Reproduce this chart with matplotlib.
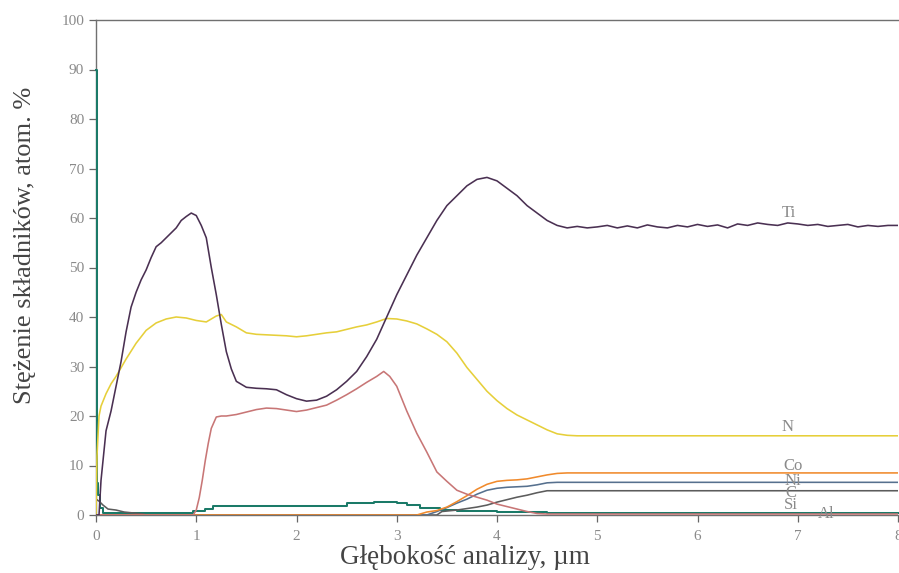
import matplotlib
matplotlib.use("Agg")
import matplotlib.pyplot as plt

# ---------------- data ----------------
ti_depth = [0, 0.03, 0.05, 0.08, 0.1, 0.15, 0.2, 0.25, 0.3, 0.35, 0.4, 0.45, 0.5, 0.55, 0.6,
            0.65, 0.7, 0.75, 0.8, 0.85, 0.9, 0.95, 1.0, 1.05, 1.1, 1.15, 1.2, 1.25, 1.3, 1.35,
            1.4, 1.5, 1.6, 1.7, 1.8, 1.9, 2.0, 2.1, 2.2, 2.3, 2.4, 2.5, 2.6, 2.7, 2.8, 2.9,
            3.0, 3.1, 3.2, 3.3, 3.4, 3.5, 3.6, 3.7, 3.8, 3.9, 4.0, 4.1, 4.2, 4.3, 4.4, 4.5,
            4.6, 4.7, 4.8, 4.9, 5.0, 5.1, 5.2, 5.3, 5.4, 5.5, 5.6, 5.7, 5.8, 5.9, 6.0, 6.1,
            6.2, 6.3, 6.4, 6.5, 6.6, 6.7, 6.8, 6.9, 7.0, 7.1, 7.2, 7.3, 7.4, 7.5, 7.6, 7.7,
            7.8, 7.9, 8.0]
ti_vals = [0, 0, 7, 13, 17, 21, 26, 31, 37, 42, 45, 47.5, 49.5, 52, 54.2,
           55, 56, 57, 58, 59.5, 60.3, 61, 60.5, 58.5, 56, 50, 44.5, 38.5, 33, 29.5,
           27.0, 25.8, 25.6, 25.5, 25.3, 24.3, 23.5, 23.0, 23.2, 24.0, 25.3, 27, 29, 32, 35.5, 40,
           44.5, 48.5, 52.5, 56, 59.5, 62.5, 64.5, 66.5, 67.8, 68.2, 67.5, 66, 64.5, 62.5, 61, 59.5,
           58.5, 58.0, 58.3, 58.0, 58.2, 58.5, 58.0, 58.4, 58.0, 58.6, 58.2, 58.0, 58.5, 58.2, 58.7, 58.3,
           58.6, 58.0, 58.8, 58.5, 59.0, 58.7, 58.5, 59.0, 58.8, 58.5, 58.7, 58.3, 58.5, 58.7, 58.2, 58.5,
           58.3, 58.5, 58.5]

n_depth = [0, 0.01, 0.03, 0.05, 0.1, 0.15, 0.2, 0.3, 0.4, 0.5, 0.6, 0.7, 0.8, 0.9, 1.0, 1.1,
           1.2, 1.25, 1.3, 1.4, 1.5, 1.6, 1.7, 1.8, 1.9, 2.0, 2.1, 2.2, 2.3, 2.4, 2.5, 2.6,
           2.7, 2.8, 2.9, 3.0, 3.1, 3.2, 3.3, 3.4, 3.5, 3.6, 3.7, 3.8, 3.9, 4.0, 4.1, 4.2,
           4.3, 4.4, 4.5, 4.6, 4.7, 4.8, 5.0, 5.5, 6.0, 6.5, 7.0, 7.5, 8.0]
n_vals = [0, 12, 20, 22, 24.5, 26.5, 28, 31.5, 34.7, 37.3, 38.8, 39.6, 40, 39.8, 39.3, 39.0,
          40.2, 40.5, 39, 38, 36.8, 36.5, 36.4, 36.3, 36.2, 36.0, 36.2, 36.5, 36.8, 37.0, 37.5, 38.0,
          38.4, 39.0, 39.7, 39.6, 39.2, 38.6, 37.6, 36.5, 35.0, 32.7, 29.8, 27.4, 25.0, 23.1, 21.5, 20.2,
          19.2, 18.2, 17.2, 16.4, 16.1, 16.0, 16.0, 16.0, 16.0, 16.0, 16.0, 16.0, 16.0]

al_depth = [0, 0.97, 1.0, 1.03, 1.06, 1.09, 1.12, 1.15, 1.2, 1.25, 1.3, 1.4, 1.5, 1.6, 1.7,
            1.8, 1.9, 2.0, 2.1, 2.2, 2.3, 2.4, 2.5, 2.6, 2.7, 2.8, 2.87, 2.93, 3.0, 3.1, 3.2,
            3.3, 3.4, 3.5, 3.6, 3.7, 3.8, 3.9, 4.0, 4.1, 4.2, 4.3, 4.4, 4.5, 8.0]
al_vals = [0, 0, 1, 3.5, 7, 11, 14.5, 17.5, 19.8, 20, 20, 20.3, 20.8, 21.3, 21.6,
           21.5, 21.2, 20.9, 21.2, 21.7, 22.2, 23.2, 24.3, 25.5, 26.8, 28, 29, 28.0, 26, 21, 16.5,
           12.7, 8.7, 6.8, 5.0, 4.2, 3.6, 3.0, 2.2, 1.7, 1.2, 0.7, 0.3, 0.2, 0.2]

co_depth = [0, 3.2, 3.3, 3.4, 3.5, 3.6, 3.7, 3.8, 3.9, 4.0, 4.1, 4.2, 4.3, 4.4, 4.5, 4.6, 4.7, 8.0]
co_vals = [0, 0, 0.6, 0.9, 1.6, 2.7, 3.9, 5.2, 6.2, 6.8, 7.0, 7.1, 7.3, 7.7, 8.1, 8.4, 8.5, 8.5]

ni_depth = [0, 3.3, 3.4, 3.5, 3.6, 3.7, 3.8, 3.9, 4.0, 4.1, 4.2, 4.3, 4.4, 4.5, 4.6, 8.0]
ni_vals = [0, 0, 0.7, 1.5, 2.4, 3.2, 4.2, 5.0, 5.4, 5.6, 5.7, 5.8, 6.1, 6.5, 6.6, 6.6]

c_depth = [0, 0.03, 0.07, 0.12, 0.2, 0.28, 0.47, 0.5, 3.4, 3.45, 3.6, 3.7, 3.8, 3.9, 4.0,
           4.1, 4.2, 4.3, 4.4, 4.5, 8.0]
c_vals = [3.2, 2.8, 2.0, 1.2, 1.0, 0.6, 0.2, 0, 0, 0.7, 1.0, 1.3, 1.6, 2.0, 2.6,
          3.1, 3.6, 4.0, 4.5, 4.9, 4.9]

si_depth = [0, 0.01, 0.02, 0.04, 0.07, 0.97, 1.09, 1.17, 2.5, 2.77, 3.0, 3.1, 3.23, 3.43,
            3.6, 4.0, 4.5, 8.0]
si_vals = [90, 6.5, 4, 1.4, 0.5, 0.9, 1.3, 1.9, 2.4, 2.7, 2.4, 2.0, 1.4, 1.0,
           0.8, 0.7, 0.5, 0.4]

x_ticks = [0, 1, 2, 3, 4, 5, 6, 7, 8]
y_ticks = [0, 10, 20, 30, 40, 50, 60, 70, 80, 90, 100]

labels = ["Ti", "N", "Co", "Ni", "C", "Si", "Al"]
label_x = [6.91, 6.90, 6.95, 6.95, 6.93, 6.93, 7.28]
label_y = [61.0, 17.8, 9.9, 6.9, 4.4, 2.0, 0.2]

# ---------------- figure ----------------
serif = ["Liberation Serif", "DejaVu Serif"]
plt.rcParams["font.family"] = serif

fig = plt.figure(figsize=(8.99, 5.73), dpi=100)
ax = fig.add_axes([96 / 899, 1 - 515 / 573, 802 / 899, 495 / 573])

lw = 1.15
ax.plot(si_depth, si_vals, color="#1b7a68", lw=lw + 0.3, drawstyle="steps-post", zorder=3,
        clip_on=False)
ax.plot(c_depth, c_vals, color="#5c5c5c", lw=lw, zorder=3)
ax.plot(ni_depth, ni_vals, color="#56708e", lw=lw, zorder=3)
ax.plot(co_depth, co_vals, color="#f08a2c", lw=lw, zorder=3)
ax.plot(al_depth, al_vals, color="#c87676", lw=lw, zorder=4)
ax.plot(n_depth, n_vals, color="#e6cf3a", lw=lw, zorder=5)
ax.plot(ti_depth, ti_vals, color="#4a3052", lw=lw, zorder=6)

ax.set_xlim(0, 8)
ax.set_ylim(0, 100)
ax.set_xticks(x_ticks)
ax.set_yticks(y_ticks)
ax.tick_params(axis="both", direction="out", colors="#666666", labelcolor="#8a8a8a",
               labelsize=11, length=5, width=0.9)
ax.tick_params(axis="x", pad=6)
for side in ["left", "top", "bottom"]:
    ax.spines[side].set_color("#707070")
    ax.spines[side].set_linewidth(1.0)
ax.spines["right"].set_visible(False)

for t, x, y in zip(labels, label_x, label_y):
    ax.text(x, y, t, ha="center", va="center", fontsize=12, color="#8a8a8a", zorder=7)

fig.text(465 / 899, 1 - 558 / 573, "Głębokość analizy, µm", ha="center", va="center",
         fontsize=19.5, color="#444444")
fig.text(25 / 899, 1 - 245 / 573, "Stężenie składników, atom. %", ha="center", va="center",
         rotation=90, fontsize=19, color="#444444")

fig.savefig("out.png", dpi=100)
